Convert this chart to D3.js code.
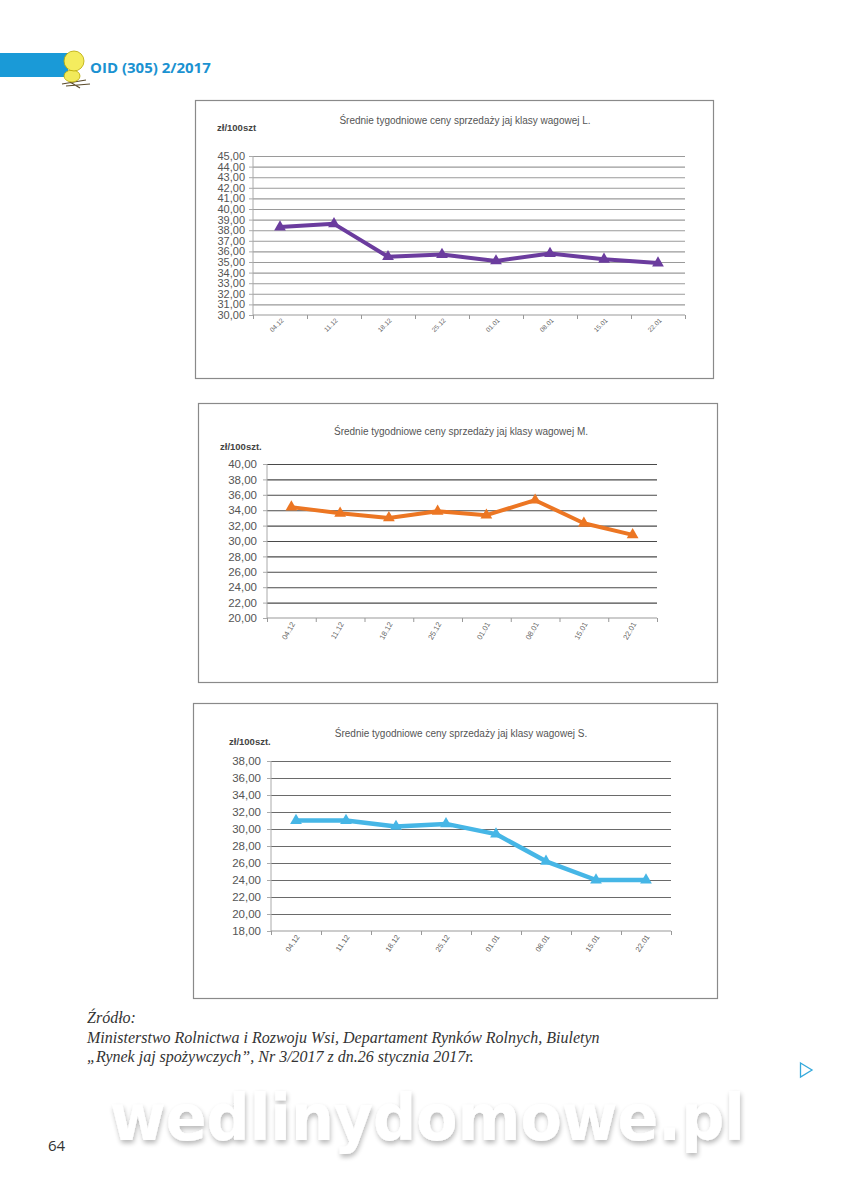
<!DOCTYPE html>
<html><head><meta charset="utf-8">
<script src="https://cdn.jsdelivr.net/npm/d3@7"></script>
<style>
html,body{margin:0;padding:0;background:#fff;}
svg{display:block;}
</style>
</head><body>
<svg id="page" width="853" height="1200"></svg>
<script>
// ---------- data ----------
const categories = ["04.12","11.12","18.12","25.12","01.01","08.01","15.01","22.01"];
const valuesL = [38.3, 38.6, 35.5, 35.7, 35.1, 35.8, 35.25, 34.9];
const valuesM = [34.4, 33.6, 33.0, 33.85, 33.35, 35.3, 32.3, 30.8];
const valuesS = [31.0, 31.0, 30.3, 30.6, 29.4, 26.2, 24.0, 24.0];
const yTicksL = [30,31,32,33,34,35,36,37,38,39,40,41,42,43,44,45];
const yTicksM = [20,22,24,26,28,30,32,34,36,38,40];
const yTicksS = [18,20,22,24,26,28,30,32,34,36,38];
const titleL = "Średnie tygodniowe ceny sprzedaży jaj klasy wagowej L.";
const titleM = "Średnie tygodniowe ceny sprzedaży jaj klasy wagowej M.";
const titleS = "Średnie tygodniowe ceny sprzedaży jaj klasy wagowej S.";
const unitL = "zł/100szt";
const unitM = "zł/100szt.";
const unitS = "zł/100szt.";
const headerText = "OID (305) 2/2017";
const sourceLines = ["Źródło:",
  "Ministerstwo Rolnictwa i Rozwoju Wsi, Departament Rynków Rolnych, Biuletyn",
  "„Rynek jaj spożywczych”, Nr 3/2017 z dn.26 stycznia 2017r."];
const pageNumber = "64";
const watermark = "wedlinydomowe.pl";

const svg = d3.select("#page");
const fmt = v => d3.format(".2f")(v).replace(".", ",");

// ---------- header ----------
const hdr = svg.append("g");
hdr.append("rect").attr("x",0).attr("y",53).attr("width",68).attr("height",24).attr("fill","#1a9ad7");
hdr.append("path").attr("d","M62 84 L86 80 M66 86 L90 84 M70 82 L80 88").attr("stroke","#5a4a2a").attr("stroke-width",1.2).attr("fill","none");
hdr.append("ellipse").attr("cx",72).attr("cy",76).attr("rx",8).attr("ry",6).attr("fill","#f2ea5a").attr("stroke","#b9a800").attr("stroke-width",0.8);
hdr.append("circle").attr("cx",74).attr("cy",61).attr("r",10).attr("fill","#f4ec5e").attr("stroke","#b9a800").attr("stroke-width",0.8);
hdr.append("text").attr("x",90).attr("y",73).text(headerText)
  .attr("font-family","'Open Sans', sans-serif").attr("font-weight","bold").attr("font-size",15).attr("fill","#1b92d1");

// ---------- chart function ----------
function drawChart(cfg){
  const g = svg.append("g");
  g.append("rect").attr("x",cfg.box[0]+0.5).attr("y",cfg.box[1]+0.5).attr("width",cfg.box[2]).attr("height",cfg.box[3])
    .attr("fill","#fff").attr("stroke","#8a8a8a").attr("stroke-width",1.2);
  const y = d3.scaleLinear().domain(d3.extent(cfg.ticks)).range([cfg.bottom, cfg.top]);
  const x = d3.scaleBand().domain(categories).range([cfg.left, cfg.right]);
  const xl = d3.scaleLinear().domain([0, categories.length]).range([cfg.left, cfg.right]);

  // gridlines
  const grid = g.append("g").attr("transform",`translate(${cfg.left},0)`)
    .call(d3.axisLeft(y).tickValues(cfg.ticks.slice(1)).tickSize(-(cfg.right-cfg.left)).tickFormat(""));
  grid.select(".domain").remove();
  grid.selectAll(".tick line").attr("stroke", cfg.gridColor).attr("stroke-width", 1.1);

  // y axis labels + line
  const ya = g.append("g").attr("transform",`translate(${cfg.left},0)`)
    .call(d3.axisLeft(y).tickValues(cfg.ticks).tickSize(4).tickPadding(cfg.labelPad).tickFormat(fmt));
  ya.select(".domain").attr("stroke","#aaa").attr("d",`M0,${cfg.top}V${cfg.bottom}`);
  ya.selectAll(".tick line").attr("stroke","#aaa");
  ya.selectAll(".tick text").attr("font-family","Arial, 'Liberation Sans', sans-serif")
    .attr("font-size",cfg.yFont).attr("fill","#555");

  // x axis boundary ticks
  const xt = g.append("g").attr("transform",`translate(0,${cfg.bottom})`)
    .call(d3.axisBottom(xl).tickValues(d3.range(categories.length+1)).tickSize(4).tickFormat(""));
  xt.select(".domain").attr("stroke","#999").attr("d",`M${cfg.left},0H${cfg.right}`);
  xt.selectAll(".tick line").attr("stroke","#999");

  // x labels
  const xa = g.append("g").attr("transform",`translate(0,${cfg.bottom})`)
    .call(d3.axisBottom(x).tickSize(0).tickPadding(0));
  xa.select(".domain").remove();
  xa.selectAll(".tick text")
    .attr("font-family","Arial, 'Liberation Sans', sans-serif").attr("font-size",cfg.xFont).attr("fill","#666")
    .attr("text-anchor","end").attr("dy",0).attr("y",0)
    .attr("transform",`translate(${cfg.xShift},${cfg.xDrop}) rotate(${cfg.rot})`);

  // title + unit
  g.append("text").attr("x",cfg.titleX).attr("y",cfg.titleY).attr("text-anchor","middle").text(cfg.title)
    .attr("font-family","Arial, 'Liberation Sans', sans-serif").attr("font-size",10).attr("fill","#555");
  g.append("text").attr("x",cfg.unitX).attr("y",cfg.unitY).text(cfg.unit)
    .attr("font-family","Arial, 'Liberation Sans', sans-serif").attr("font-weight","bold").attr("font-size",9.5).attr("fill","#444");

  // line
  const line = d3.line().x((d,i)=>x(categories[i])+x.bandwidth()/2).y(d=>y(d));
  g.append("path").datum(cfg.values).attr("d",line).attr("fill","none")
    .attr("stroke",cfg.color).attr("stroke-width",cfg.lw).attr("stroke-linejoin","round");
  g.selectAll(".mk").data(cfg.values).join("path")
    .attr("d",d3.symbol(d3.symbolTriangle, 60))
    .attr("transform",(d,i)=>`translate(${x(categories[i])+x.bandwidth()/2},${y(d)})`)
    .attr("fill",cfg.color);
}

drawChart({box:[195,100,518,278], left:253, right:685, top:156, bottom:315, ticks:yTicksL, values:valuesL,
  color:"#6b3c9e", lw:4, gridColor:"#9a9a9a", yFont:11, labelPad:4, xFont:6.5, rot:-45, xShift:4, xDrop:6,
  title:titleL, titleX:465, titleY:124, unit:unitL, unitX:217, unitY:131});
drawChart({box:[198,403,519,279], left:267, right:657, top:464, bottom:618, ticks:yTicksM, values:valuesM,
  color:"#ec7623", lw:4, gridColor:"#4a4a4a", yFont:11.5, labelPad:6, xFont:7.5, rot:-60, xShift:4, xDrop:6,
  title:titleM, titleX:461, titleY:435, unit:unitM, unitX:220, unitY:450});
drawChart({box:[193,703,524,295], left:271, right:671, top:761, bottom:931, ticks:yTicksS, values:valuesS,
  color:"#46b6e6", lw:4.5, gridColor:"#6a6a6a", yFont:11.5, labelPad:6, xFont:7.5, rot:-55, xShift:4, xDrop:6,
  title:titleS, titleX:461, titleY:737, unit:unitS, unitX:229, unitY:745});

// ---------- source ----------
const src = svg.append("text").attr("font-family","'Liberation Serif', 'DejaVu Serif', serif")
  .attr("font-style","italic").attr("font-size",16).attr("fill","#333");
sourceLines.forEach((t,i)=>{
  src.append("tspan").attr("x",87).attr("y",1023+i*19.5).text(t);
});

// arrow
svg.append("path").attr("d","M800.5 1063 L812 1070 L800.5 1077 Z").attr("fill","none").attr("stroke","#35a9dc").attr("stroke-width",1.3);

// watermark
const defs = svg.append("defs");
const f = defs.append("filter").attr("id","sh").attr("x","-10%").attr("y","-30%").attr("width","120%").attr("height","160%");
f.append("feGaussianBlur").attr("in","SourceAlpha").attr("stdDeviation",2.5).attr("result","b");
f.append("feOffset").attr("in","b").attr("dx",1).attr("dy",3).attr("result","o");
f.append("feComponentTransfer").attr("in","o").attr("result","c").append("feFuncA").attr("type","linear").attr("slope",0.28);
const fm = f.append("feMerge"); fm.append("feMergeNode").attr("in","c"); fm.append("feMergeNode").attr("in","SourceGraphic");
svg.append("text").attr("x",110).attr("y",1140).text(watermark)
  .attr("font-family","'DejaVu Sans', Verdana, sans-serif").attr("font-weight","bold").attr("font-size",64)
  .attr("textLength",635).attr("lengthAdjust","spacingAndGlyphs").attr("fill","#fff").attr("filter","url(#sh)");

// page number
svg.append("text").attr("x",48).attr("y",1151).text(pageNumber)
  .attr("font-family","'Open Sans', sans-serif").attr("font-size",15).attr("fill","#333");
</script>
</body></html>
